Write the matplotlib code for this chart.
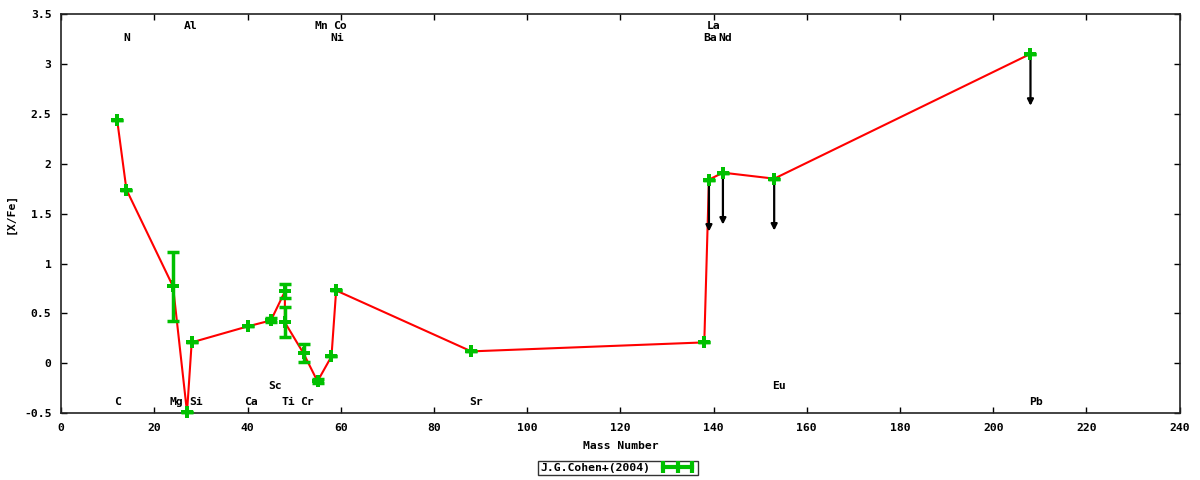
import matplotlib
matplotlib.use('Agg')
import matplotlib.pyplot as plt
from matplotlib.lines import Line2D
from matplotlib.legend_handler import HandlerLine2D, HandlerTuple

# abundance pattern, J.G.Cohen+(2004)
mass = [12, 14, 24, 27, 28, 40, 45, 48, 48, 52, 55, 58, 59, 88, 138, 139, 142, 153, 208]
xfe = [2.44, 1.74, 0.77, -0.49, 0.21, 0.37, 0.43, 0.72, 0.41, 0.10, -0.18, 0.07, 0.73,
       0.12, 0.21, 1.84, 1.91, 1.85, 3.10]
err = [0.0, 0.0, 0.35, 0.0, 0.0, 0.0, 0.02, 0.07, 0.15, 0.09, 0.02, 0.0, 0.0,
       0.0, 0.0, 0.0, 0.0, 0.0, 0.0]

# upper limits (mass, value)
limit_mass = [139, 142, 153, 208]
limit_val = [1.84, 1.91, 1.85, 3.10]
limit_len = 0.52

# element labels: name, x, y
elem_names = ['C', 'N', 'Mg', 'Al', 'Si', 'Ca', 'Sc', 'Ti', 'Cr', 'Mn', 'Co', 'Ni',
              'Sr', 'Ba', 'La', 'Nd', 'Eu', 'Pb']
elem_x = [12.1, 14.1, 24.7, 27.8, 29.0, 40.8, 45.8, 48.8, 52.8, 55.8, 59.9, 59.2,
          89.0, 139.3, 139.9, 142.4, 154.0, 209.2]
elem_y = [-0.39, 3.26, -0.39, 3.38, -0.39, -0.39, -0.23, -0.39, -0.39, 3.38, 3.38, 3.26,
          -0.39, 3.26, 3.38, 3.26, -0.23, -0.39]

xticks = list(range(0, 241, 20))
yticks = [-0.5, 0, 0.5, 1, 1.5, 2, 2.5, 3, 3.5]

green = '#00c000'
font = dict(family='DejaVu Sans Mono', weight='bold', size=8.2)

fig = plt.figure(figsize=(12, 4.8), dpi=100)
ax = fig.add_axes([0.051, 0.139, 0.932, 0.832])

ax.plot(mass, xfe, color='red', lw=1.5, zorder=2)

for m, v in zip(limit_mass, limit_val):
    ax.annotate('', xy=(m, v - limit_len), xytext=(m, v),
                arrowprops=dict(arrowstyle='-|>', color='black', lw=1.6,
                                mutation_scale=9, shrinkA=0, shrinkB=0),
                zorder=2.5)

ax.errorbar(mass, xfe, yerr=err, fmt='none', ecolor=green, elinewidth=2.5,
            capsize=4, capthick=2.5, zorder=3, clip_on=False)
ax.plot(mass, xfe, linestyle='none', marker='P', markersize=9, color=green,
        markeredgewidth=0, zorder=3.5, clip_on=False)

for name, x, y in zip(elem_names, elem_x, elem_y):
    ax.text(x, y, name, ha='center', va='center', **font)

ax.set_xlim(0, 240)
ax.set_ylim(-0.5, 3.5)
ax.set_xticks(xticks)
ax.set_yticks(yticks)
ax.set_xticklabels([str(t) for t in xticks], fontdict=font)
ax.set_yticklabels(['%g' % t for t in yticks], fontdict=font)
ax.tick_params(direction='in', length=4, width=1, top=True, right=True, pad=7)
for s in ax.spines.values():
    s.set_linewidth(1.2)
    s.set_color('#222222')

ax.set_xlabel('Mass Number', fontdict=font, labelpad=6)
ax.set_ylabel('[X/Fe]', fontdict=font, labelpad=6)

# gnuplot style key: |--+--|
bar = Line2D([], [], color=green, lw=3, marker='|', markersize=8, markeredgewidth=3)
pt = Line2D([], [], color=green, linestyle='none', marker='|', markersize=8,
            markeredgewidth=3)
leg = fig.legend([(bar, pt)], ['J.G.Cohen+(2004)'], loc='center',
                 bbox_to_anchor=(0.515, 0.025), markerfirst=False, fancybox=False,
                 handler_map={bar: HandlerLine2D(numpoints=2), pt: HandlerLine2D(numpoints=1),
                              tuple: HandlerTuple(ndivide=1)},
                 prop=dict(family='DejaVu Sans Mono', weight='bold', size=8.2),
                 borderpad=0.2, handlelength=3.2, handletextpad=0.8, borderaxespad=0)
leg.get_frame().set_edgecolor('black')
leg.get_frame().set_linewidth(1)

plt.savefig('out.png', dpi=100)
